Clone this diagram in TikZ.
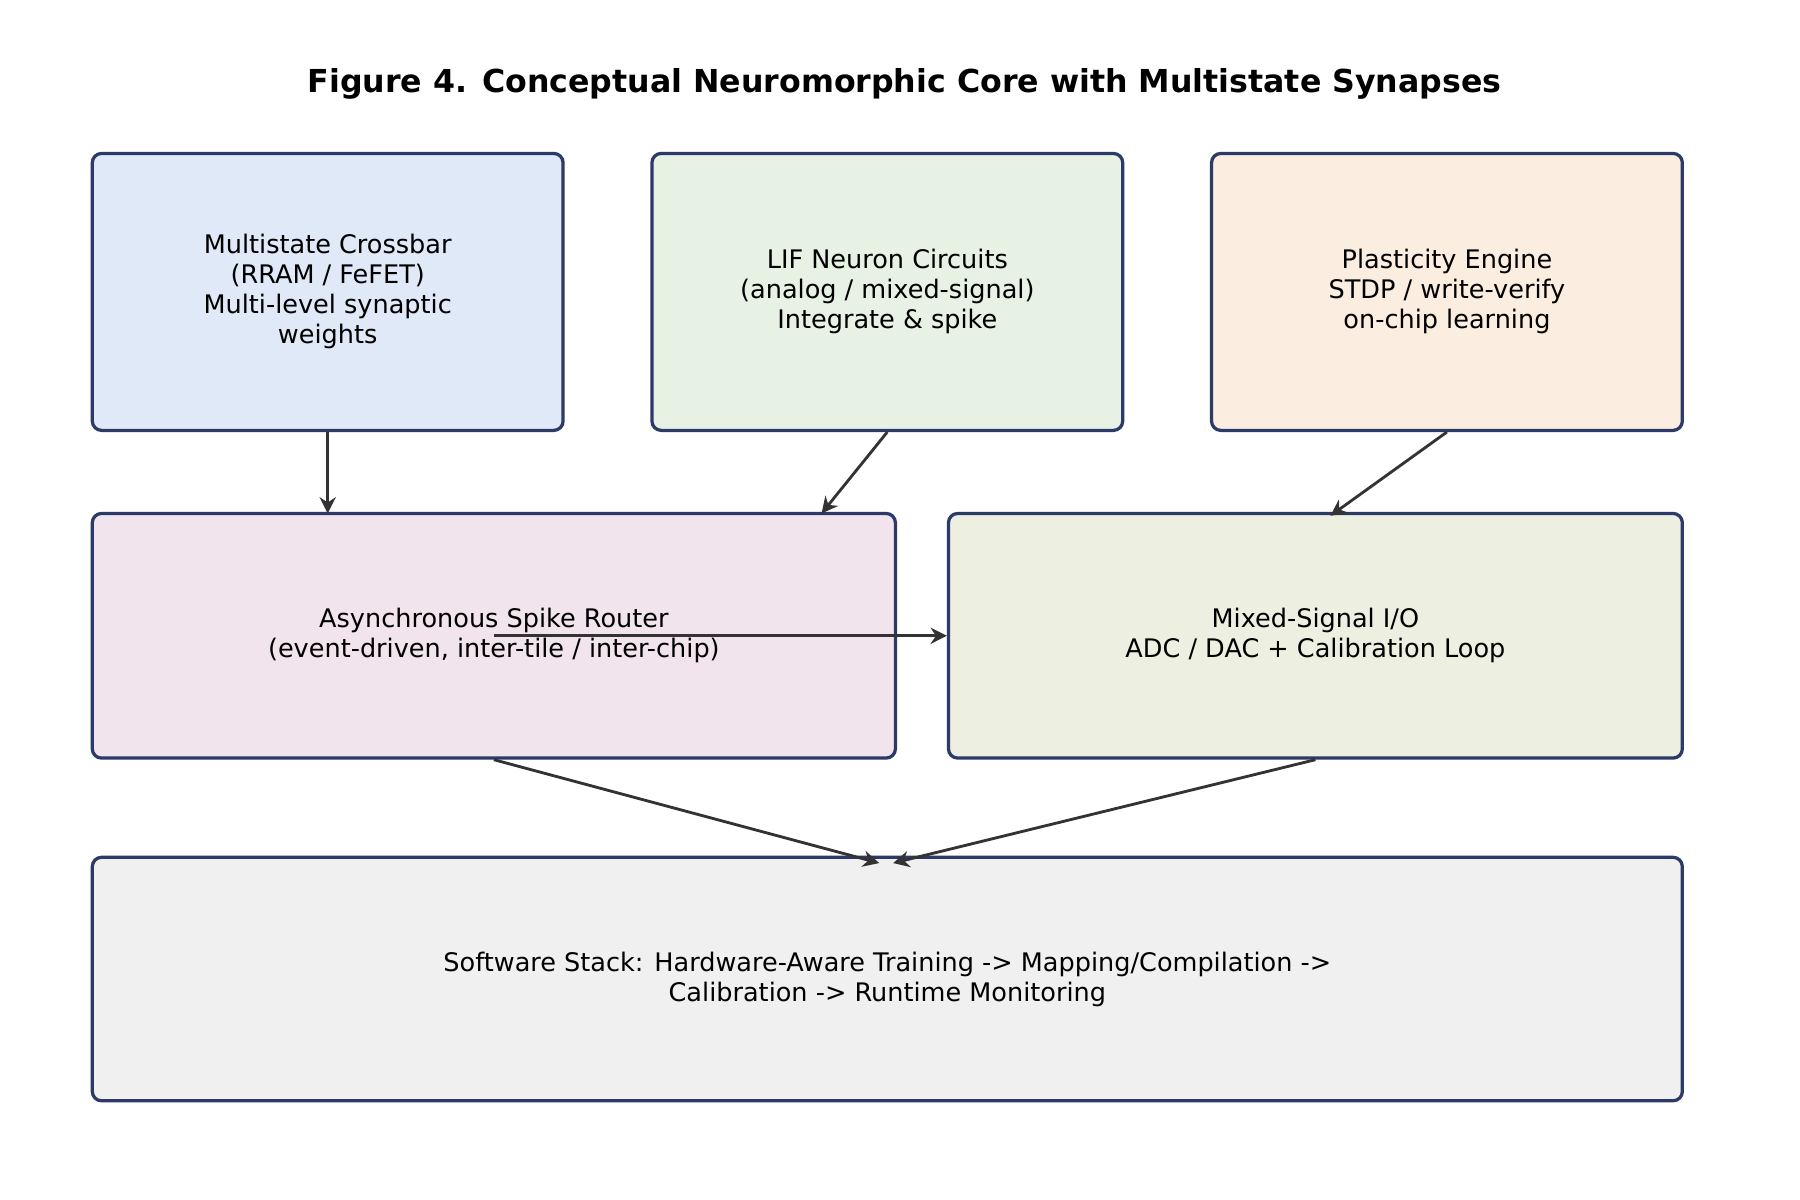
\documentclass[tikz,border=0pt]{standalone}
\usepackage{fontspec}
\setmainfont{DejaVu Sans}
\usetikzlibrary{arrows.meta}
\definecolor{edgeblue}{HTML}{2B3A67}
\definecolor{arrowgray}{HTML}{333333}
\definecolor{crossfill}{HTML}{E0E9F7}
\definecolor{neuronfill}{HTML}{E7F1E4}
\definecolor{plasticfill}{HTML}{FBEDE0}
\definecolor{routerfill}{HTML}{F2E4EC}
\definecolor{mixiofill}{HTML}{EDF0E0}
\definecolor{softfill}{HTML}{F0F0F0}
\tikzset{
  block/.style={draw=edgeblue, line width=0.8pt, rounded corners=0.08cm, align=center,
    font=\fontsize{6.3}{7.4}\selectfont, inner sep=0pt},
  link/.style={draw=arrowgray, line width=0.7pt, -{Stealth[length=4pt,width=4pt]}}
}
\begin{document}
\begin{tikzpicture}
    \useasboundingbox (0,0) rectangle (15.6,-10.4);
    % Title
    % ---------------------
    \node[font=\bfseries\fontsize{7.8}{9}\selectfont] (title) at (7.84,-0.73) {Figure 4. Conceptual Neuromorphic Core with Multistate Synapses};

    % Top row
    % ---------------------
    \node[block, fill=crossfill, minimum width=4.08cm, minimum height=2.4cm] (crossbar) at (2.84,-2.53)
      {Multistate Crossbar\\(RRAM / FeFET)\\Multi-level synaptic\\weights};
    \node[block, fill=neuronfill, minimum width=4.08cm, minimum height=2.4cm] (neuron) at (7.69,-2.53)
      {LIF Neuron Circuits\\(analog / mixed-signal)\\Integrate \& spike};
    \node[block, fill=plasticfill, minimum width=4.08cm, minimum height=2.4cm] (plastic) at (12.54,-2.53)
      {Plasticity Engine\\STDP / write-verify\\on-chip learning};

    % Middle row
    % ---------------------
    \node[block, fill=routerfill, minimum width=6.96cm, minimum height=2.12cm] (router) at (4.28,-5.51)
      {Asynchronous Spike Router\\(event-driven, inter-tile / inter-chip)};
    \node[block, fill=mixiofill, minimum width=6.36cm, minimum height=2.12cm] (mixio) at (11.40,-5.51)
      {Mixed-Signal I/O\\ADC / DAC + Calibration Loop};

    % Bottom row
    % ---------------------
    \node[block, fill=softfill, minimum width=13.78cm, minimum height=2.11cm] (software) at (7.69,-8.485)
      {Software Stack: Hardware-Aware Training -> Mapping/Compilation ->\\Calibration -> Runtime Monitoring};

    % Arrows
    % ---------------------
    \coordinate (routerin1) at (2.84,-4.45);
    \coordinate (routerin2) at (7.12,-4.45);
    \coordinate (mixioin) at (11.53,-4.47);
    \coordinate (softin1) at (7.62,-7.48);
    \coordinate (softin2) at (7.74,-7.48);
    \draw[link] (crossbar.south) -- (routerin1);
    \draw[link] (neuron.south) -- (routerin2);
    \draw[link] (plastic.south) -- (mixioin);
    \draw[link] (router.center) -- (mixio.west);
    \draw[link] (router.south) -- (softin1);
    \draw[link] (mixio.south) -- (softin2);
  \end{tikzpicture}
\end{document}
